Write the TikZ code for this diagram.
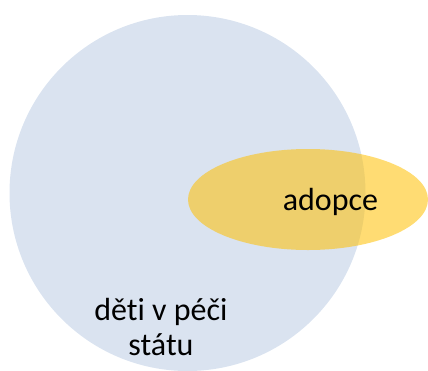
\documentclass[tikz,border=0pt]{standalone}
\usepackage{fontspec}
\setmainfont[Ligatures=NoCommon]{Carlito}
\definecolor{circblue}{HTML}{DAE3F0}
\definecolor{ellyellow}{HTML}{FFC000}
\begin{document}
\begin{tikzpicture}[x=1pt,y=-1pt,
  lbl/.style={font=\fontsize{32}{35}\selectfont, text=black, inner sep=0pt, align=center}]
\useasboundingbox (0,0) rectangle (428,370);
\begin{scope}
\clip (0,0) rectangle (428,370);
\fill[circblue] (187.5,193) circle[radius=178];
\fill[ellyellow, fill opacity=0.55] (308,199.5) ellipse[x radius=120, y radius=50.5];
\end{scope}
\node[lbl, anchor=base] (ad) at (330.5,210) {adopce};
\node[lbl, anchor=base] (dt) at (161,355) {děti v péči\\státu};
\end{tikzpicture}
\end{document}
